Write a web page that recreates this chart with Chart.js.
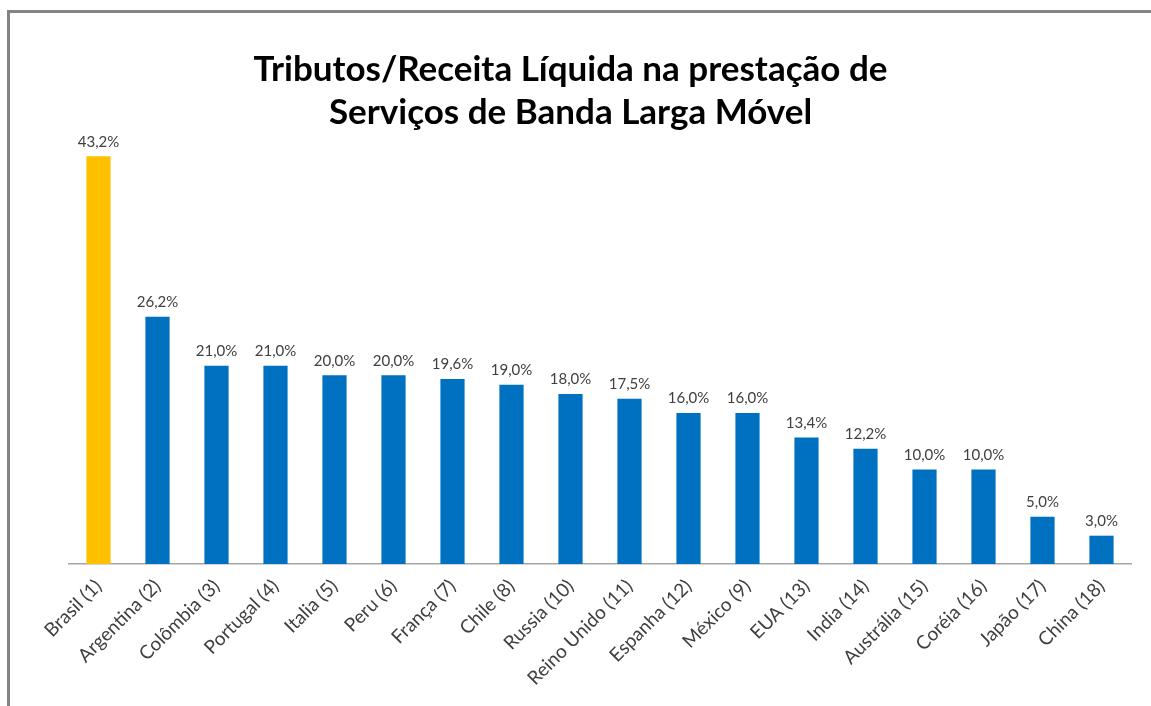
<!DOCTYPE html>
<html>
<head>
<meta charset="utf-8">
<script src="https://cdn.jsdelivr.net/npm/chart.js@4"></script>
<style>
    html, body { margin: 0; padding: 0; background: #ffffff; }
    #frame {
        position: absolute; left: 7px; top: 10px;
        width: 1141px; height: 693px;
        border-left: 3px solid #848484; border-top: 3px solid #848484;
    }
    #chart { display: block; }
</style>
</head>
<body>
<div id="frame"><canvas id="chart" width="1141" height="693"></canvas></div>
<script>
// Tax/net revenue share per country (%)
const countries = [
    "Brasil (1)", "Argentina (2)", "Colômbia (3)", "Portugal (4)", "Italia (5)", "Peru (6)",
    "França (7)", "Chile (8)", "Russia (10)", "Reino Unido (11)", "Espanha (12)", "México (9)",
    "EUA (13)", "India (14)", "Austrália (15)", "Coréia (16)", "Japão (17)", "China (18)"
];
const taxShare = [43.2, 26.2, 21.0, 21.0, 20.0, 20.0, 19.6, 19.0, 18.0, 17.5, 16.0, 16.0, 13.4, 12.2, 10.0, 10.0, 5.0, 3.0];
const titleLines = ["Tributos/Receita Líquida na prestação de", "Serviços de Banda Larga Móvel"];

const barColors = countries.map((c, i) => i === 0 ? "#FFC000" : "#0070C0");

// draw the value above each bar, Excel style
const valueLabels = {
    id: "valueLabels",
    afterDatasetsDraw(chart) {
        const ctx = chart.ctx;
        const meta = chart.getDatasetMeta(0);
        ctx.save();
        ctx.font = "15px Lato";
        ctx.fillStyle = "#404040";
        ctx.textAlign = "center";
        ctx.textBaseline = "bottom";
        meta.data.forEach((bar, i) => {
            const txt = taxShare[i].toFixed(1).replace(".", ",") + "%";
            ctx.fillText(txt, bar.x, bar.y - 7);
        });
        ctx.restore();
    }
};

new Chart(document.getElementById("chart"), {
    type: "bar",
    data: {
        labels: countries,
        datasets: [{
            data: taxShare,
            backgroundColor: barColors,
            borderWidth: 0,
            barPercentage: 0.41,
            categoryPercentage: 1.0
        }]
    },
    options: {
        responsive: false,
        animation: false,
        layout: { padding: { left: 0, right: 20, top: 0, bottom: 0 } },
        plugins: {
            legend: { display: false },
            tooltip: { enabled: false },
            title: {
                display: true,
                text: titleLines,
                color: "#000000",
                font: { family: "Lato", size: 35, weight: "bold", lineHeight: 1.23 },
                padding: { top: 35, bottom: 8 }
            }
        },
        scales: {
            x: {
                grid: { display: false, drawTicks: false },
                border: { display: true, color: "#A6A6A6", width: 1.5 },
                ticks: {
                    color: "#404040",
                    font: { family: "Lato", size: 19 },
                    minRotation: 45,
                    maxRotation: 45,
                    padding: 11
                },
                afterFit(scale) {
                    scale.paddingLeft = 59;
                    scale.paddingRight = 1;
                    scale.height = 142;
                }
            },
            y: {
                display: false,
                min: 0,
                max: 44.7
            }
        }
    },
    plugins: [valueLabels]
});
</script>
</body>
</html>
